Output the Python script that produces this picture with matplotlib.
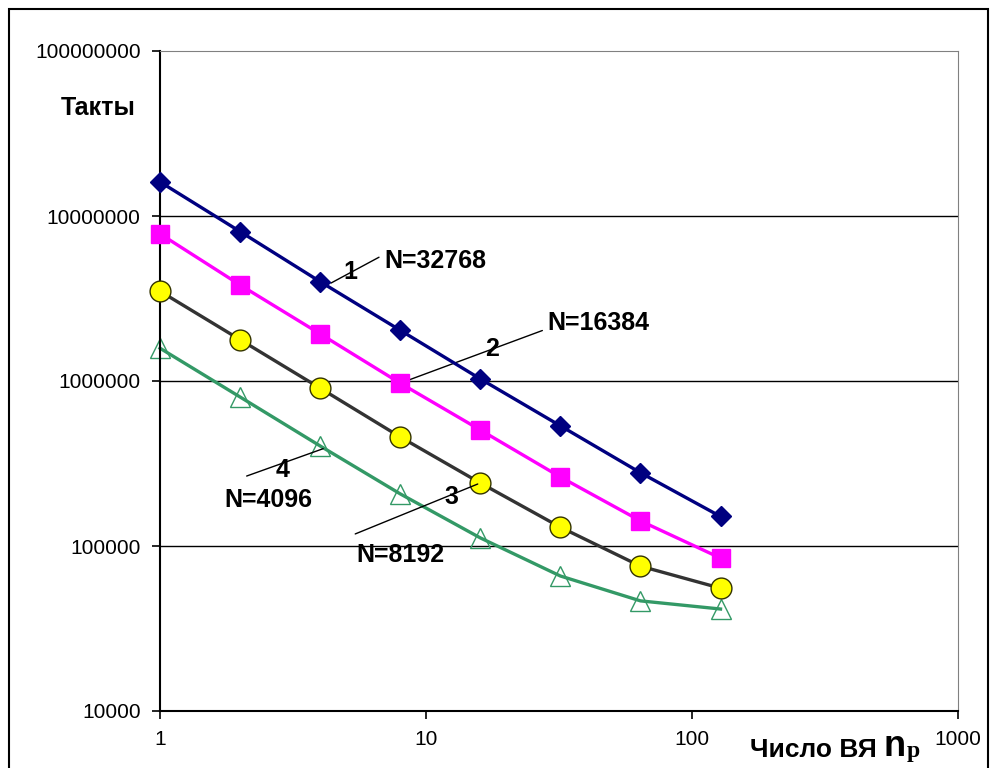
import matplotlib.pyplot as plt
from matplotlib.patches import Rectangle

plt.rcParams['font.family'] = ['Liberation Sans', 'DejaVu Sans']

# число вычислительных ядер
n_p = [1, 2, 4, 8, 16, 32, 64, 128]

# такты для разных N
takty_32768 = [16100000, 8050000, 4000000, 2030000, 1030000, 535000, 278000, 151000]
takty_16384 = [7800000, 3820000, 1930000, 970000, 505000, 262000, 142000, 84500]
takty_8192 = [3500000, 1780000, 905000, 458000, 241000, 130000, 75500, 55500]
takty_4096 = [1580000, 800000, 404000, 207000, 112000, 65800, 46500, 41500]

y_ticks = [10000, 100000, 1000000, 10000000, 100000000]
x_ticks = [1, 10, 100, 1000]

fig = plt.figure(figsize=(9.9, 7.68), dpi=100)
ax = fig.add_axes([160 / 990, 1 - 711 / 768, 798 / 990, 660 / 768])

# рамка вокруг всего рисунка
fig.patches.append(Rectangle((9 / 990, -0.02), 979 / 990, 1.02 - 9 / 768,
                             transform=fig.transFigure, fill=False,
                             edgecolor='black', linewidth=1.5))

ax.set_xscale('log')
ax.set_yscale('log')
ax.set_xlim(1, 1000)
ax.set_ylim(10000, 100000000)

for y in y_ticks[1:4]:
    ax.axhline(y, color='black', linewidth=1, zorder=1)

ax.plot(n_p, takty_32768, color='#000080', linewidth=2.4, marker='D',
        markersize=10, markerfacecolor='#000080', markeredgecolor='#000080',
        zorder=5, clip_on=False)
ax.plot(n_p, takty_16384, color='#FF00FF', linewidth=2.4, marker='s',
        markersize=13, markerfacecolor='#FF00FF', markeredgecolor='#FF00FF',
        zorder=4, clip_on=False)
ax.plot(n_p, takty_8192, color='#333333', linewidth=2.4, marker='o',
        markersize=15, markerfacecolor='#FFFF00', markeredgecolor='#333300',
        markeredgewidth=1, zorder=3, clip_on=False)
ax.plot(n_p, takty_4096, color='#339966', linewidth=2.4, marker='^',
        markersize=15, markerfacecolor='none', markeredgecolor='#339966',
        markeredgewidth=1, zorder=2, clip_on=False)

# выноски с подписями кривых
lbl = dict(fontsize=18, fontweight='bold', ha='center', va='center', zorder=7)
lead = dict(arrowstyle='-', color='black', lw=1)

ax.annotate('', xy=(4.3, 3850000), xytext=(6.8, 5730000), arrowprops=lead)
ax.text(5.18, 4580000, '1', **lbl)
ax.text(7.0, 5340000, 'N=32768', ha='left', va='center', fontsize=18,
        fontweight='bold')

ax.annotate('', xy=(8, takty_16384[3]), xytext=(28, 2050000), arrowprops=lead)
ax.text(17.7, 1570000, '2', **lbl)
ax.text(28.5, 2250000, 'N=16384', ha='left', va='center', fontsize=18,
        fontweight='bold')

ax.annotate('', xy=(16, takty_8192[4]), xytext=(5.3, 116600), arrowprops=lead)
ax.text(12.5, 198000, '3', **lbl)
ax.text(8.0, 88000, 'N=8192', **lbl)

ax.annotate('', xy=(4.2, takty_4096[2] - 10000), xytext=(2.07, 262000),
            arrowprops=lead)
ax.text(2.9, 289000, '4', **lbl)
ax.text(2.55, 190000, 'N=4096', **lbl)

ax.set_xticks(x_ticks)
ax.set_xticklabels([str(v) for v in x_ticks])
ax.set_yticks(y_ticks)
ax.set_yticklabels([str(v) for v in y_ticks])
ax.minorticks_off()
ax.tick_params(axis='both', direction='out', length=6, width=1.2,
               labelsize=15, pad=8)

ax.spines['left'].set_linewidth(1.5)
ax.spines['bottom'].set_linewidth(1.5)
ax.spines['top'].set_color('#808080')
ax.spines['right'].set_color('#808080')

fig.text(98 / 990, 1 - 108 / 768, 'Такты', fontsize=18, fontweight='bold',
         ha='center', va='center')
fig.text(813 / 990, 1 - 750 / 768, 'Число ВЯ', fontsize=19, fontweight='bold',
         ha='center', va='center')
fig.text(895 / 990, 1 - 746 / 768, 'n', fontsize=26, fontweight='bold',
         ha='center', va='center')
fig.text(913 / 990, 1 - 752 / 768, 'p', fontsize=17, fontweight='bold',
         family=['Liberation Serif', 'DejaVu Serif'], ha='center', va='center')

fig.savefig('out.png', dpi=100)
